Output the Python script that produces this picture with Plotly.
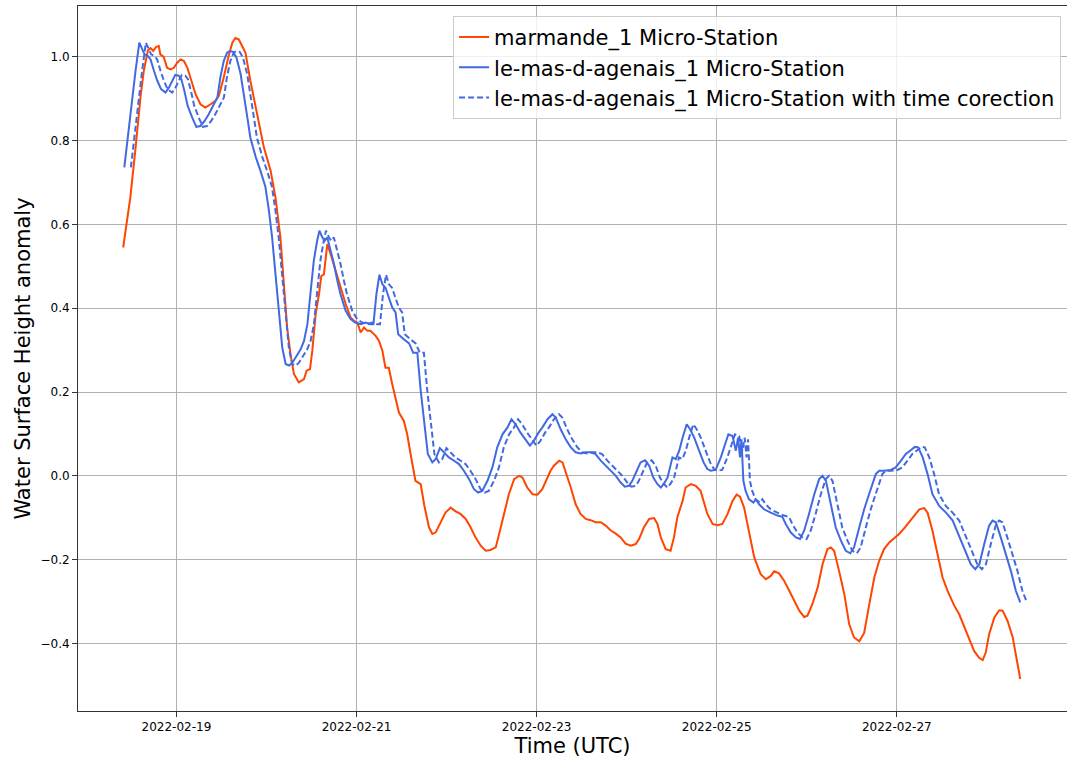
import pandas as pd
import plotly.graph_objects as go

# Time axis reference: hours since 2022-02-18 00:00 UTC
T0 = pd.Timestamp("2022-02-18 00:00")

marmande_hours = [
    9.8, 11.7, 13.1, 14.4, 15.3, 16.4, 17.1, 17.8, 18.6, 19.3, 19.7, 20.6, 21.5, 22.4, 23.3,
    24.2, 25.1, 26.0, 26.9, 27.7, 29.1, 30.4, 31.7, 33.1, 34.4, 35.3, 36.6, 38.0, 38.9, 39.7,
    40.6, 41.5, 42.4, 43.7, 45.1, 46.0, 47.3, 49.1, 50.4, 51.7, 52.6, 53.5, 54.4, 55.3, 56.6,
    58.0, 58.7, 59.6, 60.2, 61.1, 62.0, 62.6, 63.3, 64.2, 65.1, 66.4, 67.7, 69.1, 70.4, 71.3,
    72.2, 73.1, 74.0, 74.9, 75.7, 77.1, 78.0, 78.9, 79.7, 80.6, 81.5, 82.4, 83.3, 84.6, 85.5,
    86.4, 87.7, 89.1, 90.0, 91.3, 92.2, 93.1, 94.4, 95.7, 97.1, 98.4, 99.7, 101.1, 102.4, 103.7,
    105.1, 106.4, 107.7, 109.1, 110.0, 111.3, 112.6, 114.0, 115.3, 116.2, 117.5, 118.9, 120.2,
    121.5, 122.9, 123.7, 124.6, 126.0, 126.9, 127.7, 129.1, 130.4, 131.7, 133.1, 134.4, 135.7,
    137.1, 138.4, 139.7, 141.1, 142.4, 143.7, 145.1, 146.4, 147.3, 148.6, 150.0, 151.3, 152.2,
    153.1, 154.4, 155.7, 156.6, 157.5, 158.9, 159.7, 161.1, 162.4, 163.7, 165.5, 166.9, 168.2,
    169.5, 170.9, 172.2, 173.3, 174.2, 175.3, 176.6, 178.0, 179.7, 181.1, 182.4, 183.3, 184.6,
    186.0, 187.3, 188.6, 190.0, 191.3, 192.2, 193.5, 194.9, 196.2, 197.5, 198.4, 199.3, 200.6,
    202.0, 203.3, 204.6, 206.0, 207.3, 208.6, 210.0, 211.3, 212.6, 214.0, 215.3, 216.6, 218.0,
    219.3, 220.6, 222.0, 223.3, 224.2, 225.5, 226.9, 228.2, 229.5, 231.3, 232.6, 234.0, 235.3,
    236.6, 238.0, 238.9, 239.7, 240.6, 242.0, 243.3, 244.2, 245.5, 246.9, 247.7, 248.9,
]
marmande_values = [
    0.545, 0.664, 0.783, 0.903, 0.967, 1.016, 1.021, 1.014, 1.024, 1.026, 1.006, 1.000, 0.974, 0.970, 0.974,
    0.986, 0.994, 0.990, 0.974, 0.951, 0.911, 0.887, 0.879, 0.887, 0.895, 0.907, 0.951, 1.006, 1.034, 1.045,
    1.042, 1.026, 1.010, 0.943, 0.883, 0.839, 0.784, 0.728, 0.664, 0.569, 0.449, 0.354, 0.290, 0.243, 0.223,
    0.231, 0.251, 0.255, 0.298, 0.386, 0.434, 0.477, 0.481, 0.553, 0.529, 0.489, 0.449, 0.410, 0.378, 0.370,
    0.366, 0.342, 0.354, 0.346, 0.346, 0.334, 0.322, 0.298, 0.258, 0.258, 0.219, 0.187, 0.151, 0.131, 0.099,
    0.052, -0.012, -0.020, -0.068, -0.123, -0.139, -0.135, -0.111, -0.088, -0.076, -0.085, -0.091, -0.103, -0.123, -0.147,
    -0.167, -0.179, -0.177, -0.171, -0.139, -0.091, -0.044, -0.008, 0.000, -0.004, -0.028, -0.044, -0.045,
    -0.032, -0.004, 0.012, 0.024, 0.036, 0.032, 0.012, -0.028, -0.068, -0.091, -0.103, -0.106, -0.111,
    -0.111, -0.119, -0.130, -0.138, -0.147, -0.162, -0.167, -0.163, -0.151, -0.123, -0.103, -0.101, -0.115,
    -0.147, -0.175, -0.179, -0.147, -0.099, -0.060, -0.028, -0.020, -0.024, -0.036, -0.091, -0.115, -0.118,
    -0.115, -0.091, -0.060, -0.045, -0.050, -0.076, -0.131, -0.195, -0.235, -0.247, -0.239, -0.228, -0.233,
    -0.251, -0.274, -0.298, -0.322, -0.337, -0.334, -0.306, -0.267, -0.211, -0.175, -0.171, -0.179, -0.227,
    -0.282, -0.354, -0.386, -0.395, -0.375, -0.310, -0.243, -0.203, -0.175, -0.159, -0.149, -0.139, -0.125,
    -0.111, -0.095, -0.080, -0.077, -0.088, -0.131, -0.187, -0.243, -0.274, -0.310, -0.330, -0.362, -0.390,
    -0.418, -0.435, -0.440, -0.422, -0.378, -0.338, -0.321, -0.322, -0.346, -0.386, -0.426, -0.485,
]

mas_hours = [
    10.1, 11.7, 13.1, 14.1, 14.9, 15.5, 16.4, 17.1, 18.0, 18.9, 19.9, 21.1, 22.0, 22.9, 23.7,
    24.6, 25.3, 26.1, 27.0, 28.2, 29.3, 30.4, 31.5, 32.6, 34.0, 34.9, 35.7, 36.6, 37.5, 38.2,
    39.1, 40.0, 41.1, 42.0, 42.9, 43.7, 45.1, 46.4, 47.7, 48.6, 49.5, 50.4, 51.3, 52.2, 53.1,
    54.0, 54.9, 56.2, 57.1, 58.0, 58.9, 59.7, 60.6, 61.5, 62.1, 62.9, 63.5, 64.2, 65.1, 66.0,
    66.9, 67.7, 69.1, 70.4, 71.7, 73.1, 74.4, 75.7, 76.5, 77.3, 78.1, 78.9, 79.7, 80.6, 81.5,
    82.4, 83.1, 84.6, 86.0, 87.1, 88.2, 89.1, 90.0, 91.0, 92.2, 93.1, 94.2, 95.3, 96.6, 98.0,
    99.3, 100.6, 102.0, 103.3, 104.4, 105.5, 106.9, 108.2, 109.5, 110.9, 112.2, 113.3, 114.4,
    115.7, 117.1, 118.2, 119.3, 120.5, 121.5, 122.9, 124.2, 125.1, 126.4, 127.7, 129.1, 130.4,
    131.7, 133.1, 134.4, 135.7, 137.1, 138.4, 139.7, 141.1, 142.4, 143.5, 144.6, 145.5, 146.7,
    147.7, 148.9, 150.0, 151.1, 152.2, 153.1, 154.0, 154.9, 155.6, 156.2, 157.1, 158.0, 158.9,
    160.0, 160.9, 162.0, 163.3, 164.5, 165.5, 166.4, 167.7, 169.1, 170.4, 171.1, 172.2, 173.1,
    173.7, 174.2, 174.6, 174.9, 175.1, 175.7, 176.6, 177.8, 178.4, 179.3, 180.6, 182.4, 184.2,
    185.5, 186.4, 187.7, 189.1, 190.2, 191.3, 192.6, 194.0, 195.3, 196.2, 197.1, 198.4, 199.7,
    201.1, 202.4, 203.6, 204.6, 206.0, 207.3, 208.6, 209.1, 210.4, 211.3, 212.6, 214.4, 215.7,
    217.1, 218.4, 219.7, 220.8, 221.7, 222.9, 224.2, 225.5, 227.3, 229.1, 230.9, 232.6, 234.4,
    235.7, 236.9, 238.0, 239.3, 240.6, 241.5, 242.4, 243.7, 245.1, 246.4, 247.7, 248.9,
]
mas_values = [
    0.736, 0.863, 0.967, 1.034, 1.018, 1.006, 1.002, 0.994, 0.967, 0.943, 0.923, 0.915, 0.927, 0.943, 0.957,
    0.955, 0.947, 0.919, 0.883, 0.855, 0.833, 0.835, 0.847, 0.863, 0.887, 0.903, 0.951, 0.990, 1.010, 1.014,
    1.012, 0.998, 0.959, 0.911, 0.855, 0.807, 0.762, 0.728, 0.690, 0.636, 0.569, 0.481, 0.386, 0.306, 0.267,
    0.263, 0.270, 0.290, 0.302, 0.322, 0.362, 0.434, 0.513, 0.561, 0.585, 0.569, 0.561, 0.569, 0.537, 0.505,
    0.465, 0.434, 0.394, 0.374, 0.366, 0.362, 0.366, 0.362, 0.362, 0.434, 0.480, 0.457, 0.449, 0.426, 0.402,
    0.390, 0.338, 0.326, 0.316, 0.294, 0.294, 0.203, 0.131, 0.052, 0.032, 0.040, 0.066, 0.056, 0.044, 0.036,
    0.028, 0.012, -0.008, -0.032, -0.040, -0.036, -0.012, 0.020, 0.068, 0.099, 0.115, 0.135, 0.123,
    0.103, 0.084, 0.072, 0.084, 0.103, 0.115, 0.135, 0.147, 0.139, 0.111, 0.088, 0.068, 0.056,
    0.053, 0.056, 0.056, 0.052, 0.036, 0.024, 0.012, 0.000, -0.016, -0.026, -0.024, -0.012, 0.012,
    0.032, 0.037, 0.024, -0.004, -0.020, -0.028, -0.018, -0.004, 0.020, 0.044, 0.040, 0.060, 0.091,
    0.123, 0.111, 0.091, 0.060, 0.032, 0.016, 0.012, 0.014, 0.044, 0.080, 0.099, 0.095, 0.060,
    0.091, 0.044, 0.087, 0.036, -0.012, -0.036, -0.056, -0.064, -0.056, -0.068, -0.080, -0.088, -0.095,
    -0.098, -0.115, -0.135, -0.147, -0.151, -0.131, -0.091, -0.044, -0.008, 0.000, -0.012, -0.068, -0.123,
    -0.155, -0.179, -0.185, -0.171, -0.123, -0.080, -0.044, -0.030, 0.004, 0.012, 0.012, 0.014, 0.020,
    0.036, 0.052, 0.061, 0.069, 0.068, 0.044, 0.004, -0.044, -0.072, -0.088, -0.107, -0.143, -0.183,
    -0.211, -0.223, -0.211, -0.163, -0.119, -0.107, -0.111, -0.147, -0.187, -0.227, -0.274, -0.302,
]

# Time correction applied to le-mas-d-agenais_1 (hours)
TIME_CORRECTION_H = 1.75

marmande_t = T0 + pd.to_timedelta(marmande_hours, unit="h")
mas_t = T0 + pd.to_timedelta(mas_hours, unit="h")
mas_corr_t = T0 + pd.to_timedelta([h + TIME_CORRECTION_H for h in mas_hours], unit="h")

ORANGE = "#FF4500"
BLUE = "#4169E1"

fig = go.Figure()
fig.add_trace(go.Scatter(x=marmande_t, y=marmande_values, mode="lines",
                         name="marmande_1 Micro-Station",
                         line=dict(color=ORANGE, width=2)))
fig.add_trace(go.Scatter(x=mas_t, y=mas_values, mode="lines",
                         name="le-mas-d-agenais_1 Micro-Station",
                         line=dict(color=BLUE, width=2)))
fig.add_trace(go.Scatter(x=mas_corr_t, y=mas_values, mode="lines",
                         name="le-mas-d-agenais_1 Micro-Station with time corection",
                         line=dict(color=BLUE, width=2, dash="6px,3px")))

# matplotlib-like auto limits (5% margins)
all_h = marmande_hours + mas_hours + [h + TIME_CORRECTION_H for h in mas_hours]
hmin, hmax = min(all_h), max(all_h)
hspan = hmax - hmin
x0 = hmin - 0.05 * hspan
x1_full = hmax + 0.05 * hspan
x1 = x0 + (x1_full - x0) * (989 / 994)  # right edge falls just outside the canvas
all_v = marmande_values + mas_values
vmin, vmax = min(all_v), max(all_v)
vspan = vmax - vmin
y0 = vmin - 0.05 * vspan
y1 = vmax + 0.05 * vspan

tick_dates = ["2022-02-19", "2022-02-21", "2022-02-23", "2022-02-25", "2022-02-27"]

fig.update_layout(
    width=1067, height=762,
    margin=dict(l=78, r=0, t=6, b=51, autoexpand=False),
    paper_bgcolor="white", plot_bgcolor="white",
    font=dict(family="DejaVu Sans", color="black"),
    showlegend=True,
    legend=dict(x=0.994, xanchor="right", y=0.986, yanchor="top",
                bgcolor="rgba(255,255,255,0.8)", bordercolor="#cccccc", borderwidth=1,
                font=dict(size=21, family="DejaVu Sans")),
    xaxis=dict(
        type="date", automargin=False,
        range=[T0 + pd.Timedelta(hours=x0), T0 + pd.Timedelta(hours=x1)],
        tickvals=tick_dates, ticktext=tick_dates,
        showgrid=True, gridcolor="#b0b0b0", gridwidth=1,
        showline=True, linecolor="#333333", linewidth=1, mirror=True,
        ticks="outside", ticklen=5, tickcolor="#333333",
        tickfont=dict(size=12),
        title=dict(text="Time (UTC)", font=dict(size=21), standoff=2),
        zeroline=False,
    ),
    yaxis=dict(
        automargin=False,
        range=[y0, y1],
        tickvals=[-0.4, -0.2, 0.0, 0.2, 0.4, 0.6, 0.8, 1.0],
        tickformat=".1f",
        showgrid=True, gridcolor="#b0b0b0", gridwidth=1,
        showline=True, linecolor="#333333", linewidth=1,
        ticks="outside", ticklen=5, tickcolor="#333333",
        tickfont=dict(size=12),
        title=dict(text="Water Surface Height anomaly", font=dict(size=21), standoff=4),
        zeroline=False,
    ),
)

fig.write_html("out.html", config={"displayModeBar": False},
               post_script="document.body.style.margin='0';document.body.style.overflow='hidden';")
